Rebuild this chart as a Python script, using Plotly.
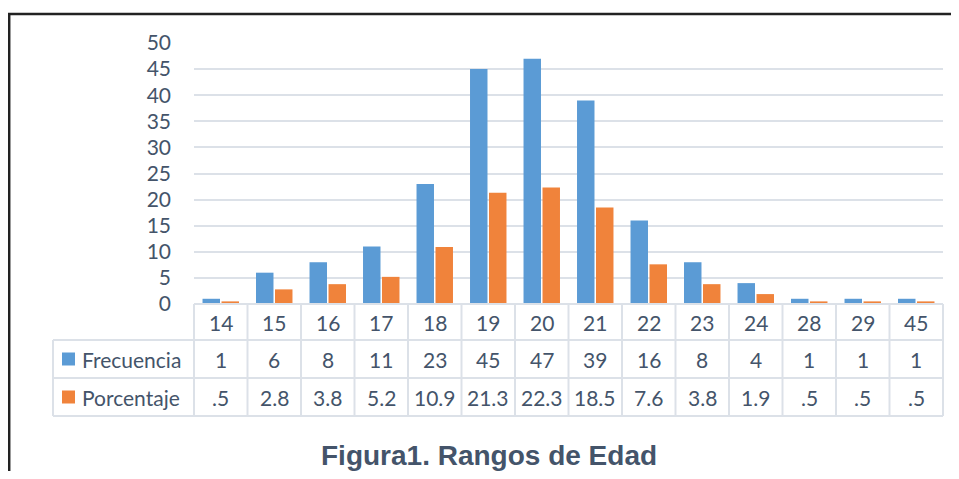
import plotly.graph_objects as go

edades = ["14", "15", "16", "17", "18", "19", "20", "21", "22", "23", "24", "28", "29", "45"]
frecuencia = [1, 6, 8, 11, 23, 45, 47, 39, 16, 8, 4, 1, 1, 1]
porcentaje = [0.5, 2.8, 3.8, 5.2, 10.9, 21.3, 22.3, 18.5, 7.6, 3.8, 1.9, 0.5, 0.5, 0.5]
porcentaje_txt = [".5", "2.8", "3.8", "5.2", "10.9", "21.3", "22.3", "18.5", "7.6", "3.8", "1.9", ".5", ".5", ".5"]
series = ["Frecuencia", "Porcentaje"]
titulo = "Figura1. Rangos de Edad"

# page body has an 8px default margin; keep the figure inside the window (no scrollbars)
OFF = 8
W, H = 959 - 2 * OFF, 479 - 2 * OFF
PL, PR, PT, PB = 194, 943, 43, 304          # plot area in reference pixels
L, R, T, B = PL - OFF, W - (PR - OFF), PT - OFF, H - (PB - OFF)
PW, PH = W - L - R, H - T - B

def xp(px):
    return (px - OFF - L) / PW

def yp(py):
    return (H - B - (py - OFF)) / PH

BLUE = "#5B9BD5"
ORANGE = "#F0833B"
TXT = "#44546A"
GRID = "#DCE1E8"
FONT = "Lato, 'Noto Sans', sans-serif"
FS = 21

n = len(edades)
idx = list(range(n))

fig = go.Figure()
fig.add_trace(go.Bar(x=idx, y=frecuencia, name=series[0], marker=dict(color=BLUE, line=dict(width=0))))
fig.add_trace(go.Bar(x=idx, y=porcentaje, name=series[1], marker=dict(color=ORANGE, line=dict(width=0))))

shapes = []
annotations = []

row_top, row1, row2, row3 = 304, 340, 378, 416
line = dict(color=GRID, width=2)

# horizontal table lines
shapes.append(dict(type="line", xref="paper", yref="paper", x0=0, x1=1, y0=yp(row_top), y1=yp(row_top), line=line))
for ry in (row1, row2, row3):
    shapes.append(dict(type="line", xref="paper", yref="paper", x0=xp(53), x1=1, y0=yp(ry), y1=yp(ry), line=line))
# vertical lines at category boundaries
for k in range(1, n):
    shapes.append(dict(type="line", xref="x", yref="paper", x0=k - 0.5, x1=k - 0.5, y0=yp(row_top), y1=yp(row3), line=line))
shapes.append(dict(type="line", xref="paper", yref="paper", x0=0, x1=0, y0=yp(row_top), y1=yp(row3), line=line))
shapes.append(dict(type="line", xref="paper", yref="paper", x0=1, x1=1, y0=yp(row_top), y1=yp(row3), line=line))
shapes.append(dict(type="line", xref="paper", yref="paper", x0=xp(53), x1=xp(53), y0=yp(row1), y1=yp(row3), line=line))

# legend keys and names
for ry, col, name in ((row1, BLUE, series[0]), (row2, ORANGE, series[1])):
    cy = ry + 19
    shapes.append(dict(type="rect", xref="paper", yref="paper", x0=xp(62), x1=xp(75), y0=yp(cy - 6.5), y1=yp(cy + 6.5),
                       fillcolor=col, line=dict(width=0)))
    annotations.append(dict(xref="paper", yref="paper", x=xp(80), y=yp(cy), text=name, showarrow=False,
                            xanchor="left", yanchor="middle", font=dict(family=FONT, size=FS, color=TXT)))

# table cell texts
for i in idx:
    for cy, txt in ((322, edades[i]), (359, str(frecuencia[i])), (397, porcentaje_txt[i])):
        annotations.append(dict(xref="x", yref="paper", x=i, y=yp(cy), text=txt, showarrow=False,
                                xanchor="center", yanchor="middle", font=dict(family=FONT, size=FS, color=TXT)))

# title
annotations.append(dict(xref="paper", yref="paper", x=xp(489), y=yp(455), text="<b>" + titulo + "</b>", showarrow=False,
                        xanchor="center", yanchor="middle",
                        font=dict(family="Liberation Sans, Arial, sans-serif", size=28, color=TXT)))

# outer border (top and left)
shapes.append(dict(type="line", xref="paper", yref="paper", x0=xp(8), x1=xp(975), y0=yp(14), y1=yp(14),
                   line=dict(color="#222222", width=2.5)))
shapes.append(dict(type="line", xref="paper", yref="paper", x0=xp(9.2), x1=xp(9.2), y0=yp(13), y1=yp(495),
                   line=dict(color="#222222", width=2.5)))

fig.update_layout(
    width=W, height=H,
    margin=dict(l=L, r=R, t=T, b=B),
    paper_bgcolor="white", plot_bgcolor="white",
    barmode="group", bargap=0.29, bargroupgap=0.08,
    showlegend=False,
    shapes=shapes, annotations=annotations,
    xaxis=dict(range=[-0.5, n - 0.5], showticklabels=False, showgrid=False, zeroline=False, showline=False, ticks=""),
    yaxis=dict(range=[0, 50], dtick=5, showgrid=True, gridcolor=GRID, gridwidth=2, zeroline=False, showline=False,
               tickfont=dict(family=FONT, size=FS, color=TXT), ticklabelstandoff=22),
)

fig.write_html("out.html")
